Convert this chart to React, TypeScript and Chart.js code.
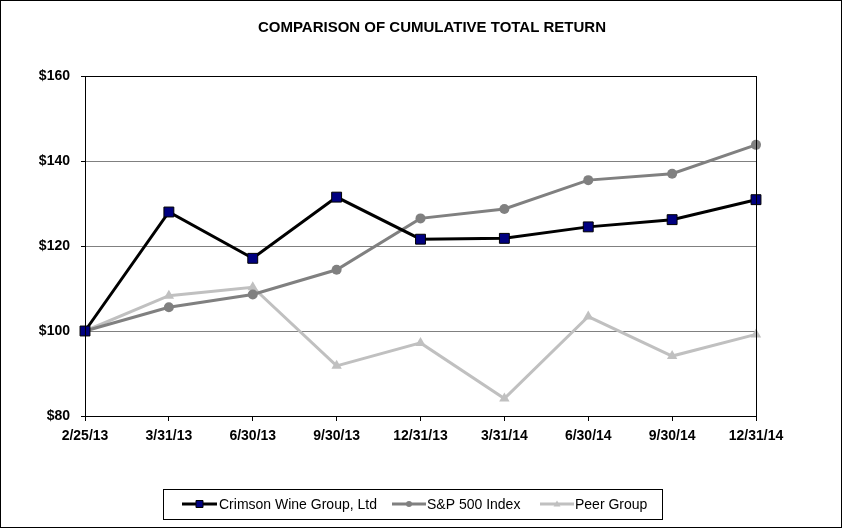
import React, { useEffect, useRef } from "react";
import { Chart, registerables } from "chart.js";

Chart.register(...registerables);

const categories = ["2/25/13", "3/31/13", "6/30/13", "9/30/13", "12/31/13", "3/31/14", "6/30/14", "9/30/14", "12/31/14"];
const crimson = [100, 128.0, 117.1, 131.5, 121.6, 121.8, 124.5, 126.2, 130.9];
const sp500 = [100, 105.6, 108.6, 114.4, 126.5, 128.7, 135.5, 137.0, 143.8];
const peer = [100, 108.3, 110.3, 91.8, 97.2, 84.1, 103.4, 94.1, 99.2];
const yTicks = [80, 100, 120, 140, 160];
const seriesNames = ["Crimson Wine Group, Ltd", "S&P 500 Index", "Peer Group"];
const titleText = "COMPARISON OF CUMULATIVE TOTAL RETURN";

const FONT = "'Liberation Sans', Arial, sans-serif";

const decorPlugin = {
  id: "decor",
  beforeDraw(chart: any) {
    const ctx = chart.ctx;
    ctx.save();
    ctx.fillStyle = "#ffffff";
    ctx.fillRect(0, 0, chart.width, chart.height);
    ctx.restore();
  },
  afterDraw(chart: any) {
    const ctx = chart.ctx;
    const a = chart.chartArea;
    ctx.save();
    // plot border
    ctx.strokeStyle = "#000000";
    ctx.lineWidth = 1;
    ctx.strokeRect(Math.round(a.left) + 0.5, Math.round(a.top) + 0.5, Math.round(a.right - a.left), Math.round(a.bottom - a.top));
    // outer border
    ctx.strokeRect(0.5, 0.5, chart.width - 2, chart.height - 2);
    // title
    ctx.fillStyle = "#000000";
    ctx.font = `bold 15px ${FONT}`;
    ctx.textAlign = "center";
    ctx.textBaseline = "middle";
    ctx.fillText(titleText, 432, 28);
    // legend box
    ctx.strokeRect(163.5, 489.5, 499, 30);
    const items = [
      { x0: 182, x1: 217, tx: 219, color: "#000000", fill: "#000080", style: "rect" },
      { x0: 392, x1: 426, tx: 427, color: "#808080", fill: "#808080", style: "circle" },
      { x0: 540, x1: 574, tx: 575, color: "#C0C0C0", fill: "#C0C0C0", style: "triangle" },
    ];
    const ly = 504;
    ctx.font = `14px ${FONT}`;
    ctx.textAlign = "left";
    items.forEach((it, i) => {
      ctx.strokeStyle = it.color;
      ctx.lineWidth = 3;
      ctx.beginPath();
      ctx.moveTo(it.x0, ly);
      ctx.lineTo(it.x1, ly);
      ctx.stroke();
      const cx = (it.x0 + it.x1) / 2;
      ctx.fillStyle = it.fill;
      ctx.beginPath();
      if (it.style === "rect") {
        ctx.rect(cx - 3.5, ly - 3.5, 7, 7);
        ctx.fill();
        ctx.lineWidth = 1;
        ctx.strokeStyle = "#000000";
        ctx.stroke();
      } else if (it.style === "circle") {
        ctx.arc(cx, ly, 3, 0, Math.PI * 2);
        ctx.fill();
      } else {
        ctx.moveTo(cx, ly - 3.5);
        ctx.lineTo(cx + 3.5, ly + 2.5);
        ctx.lineTo(cx - 3.5, ly + 2.5);
        ctx.closePath();
        ctx.fill();
      }
      ctx.fillStyle = "#000000";
      ctx.fillText(seriesNames[i], it.tx, ly + 1);
    });
    ctx.restore();
  },
};

export default function App() {
  const ref = useRef<HTMLCanvasElement | null>(null);
  useEffect(() => {
    document.body.style.margin = "0";
    const canvas = ref.current;
    if (!canvas) return;
    const chart = new Chart(canvas, {
      type: "line",
      data: {
        labels: categories,
        datasets: [
          {
            label: seriesNames[0],
            data: crimson,
            borderColor: "#000000",
            borderWidth: 3,
            backgroundColor: "#000080",
            pointStyle: "rect",
            pointRadius: 7,
            pointBorderColor: "#000000",
            pointBorderWidth: 1,
            pointBackgroundColor: "#000080",
            tension: 0,
            order: 1,
          },
          {
            label: seriesNames[1],
            data: sp500,
            borderColor: "#808080",
            borderWidth: 3,
            backgroundColor: "#808080",
            pointStyle: "circle",
            pointRadius: 5,
            pointBorderWidth: 0,
            pointBackgroundColor: "#808080",
            tension: 0,
            order: 2,
          },
          {
            label: seriesNames[2],
            data: peer,
            borderColor: "#C0C0C0",
            borderWidth: 3,
            backgroundColor: "#C0C0C0",
            pointStyle: "triangle",
            pointRadius: 6,
            pointBorderWidth: 0,
            pointBackgroundColor: "#C0C0C0",
            tension: 0,
            order: 3,
          },
        ],
      },
      options: {
        animation: false,
        responsive: false,
        devicePixelRatio: 1,
        layout: { padding: { top: 76, right: 87, bottom: 83, left: 0 } },
        plugins: {
          legend: { display: false },
          title: { display: false },
          tooltip: { enabled: false },
        },
        scales: {
          x: {
            type: "category",
            offset: false,
            grid: {
              drawOnChartArea: false,
              drawTicks: true,
              tickLength: 5,
              color: "#000000",
            },
            border: { color: "#000000", width: 1 },
            ticks: {
              color: "#000000",
              font: { family: FONT, size: 14, weight: "bold" },
              padding: 7,
              maxRotation: 0,
              autoSkip: false,
            },
            afterFit(scale: any) {
              scale.height = 30;
            },
          },
          y: {
            min: 80,
            max: 160,
            afterBuildTicks(scale: any) {
              scale.ticks = yTicks.map((v) => ({ value: v }));
            },
            grid: {
              color: (c: any) => (c.tick && (c.tick.value === 80 || c.tick.value === 160) ? "#000000" : "#808080"),
              tickColor: "#000000",
              tickLength: 4,
              lineWidth: 1,
            },
            border: { color: "#000000", width: 1 },
            ticks: {
              color: "#000000",
              font: { family: FONT, size: 14, weight: "bold" },
              padding: 11,
              callback: (v: any) => "$" + v,
            },
            afterFit(scale: any) {
              scale.width = 85;
            },
          },
        },
      },
      plugins: [decorPlugin],
    });
    return () => chart.destroy();
  }, []);
  return (
    <div style={{ width: 843, height: 529 }}>
      <canvas ref={ref} width={843} height={529} style={{ display: "block", width: 843, height: 529 }} />
    </div>
  );
}
